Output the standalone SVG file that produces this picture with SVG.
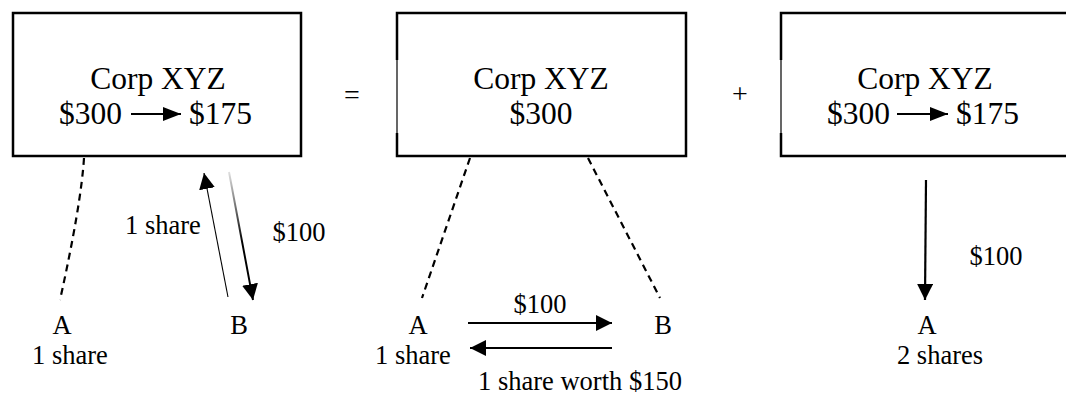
<svg xmlns="http://www.w3.org/2000/svg" width="1066" height="398" viewBox="0 0 1066 398">
<style>
.box{fill:none;stroke:#000;stroke-width:2.5}
.edge{stroke:#000;fill:none}
.t{font-family:"Liberation Serif","Times New Roman",serif;fill:#000}
.big{font-size:31.5px}
.lbl{font-size:26.5px}
.dash{stroke:#000;stroke-width:2.2;fill:none;stroke-dasharray:7 5}
.arr{stroke:#000;stroke-width:2.2;fill:none;marker-end:url(#ah)}
</style>
<defs>
<marker id="ah" markerUnits="userSpaceOnUse" markerWidth="17" markerHeight="17" refX="16" refY="8" orient="auto" viewBox="0 0 17 17">
<path d="M0,0 L16,8 L0,16 z" fill="#000"/>
</marker>
<marker id="ahs" markerUnits="userSpaceOnUse" markerWidth="19" markerHeight="15" refX="18" refY="7" orient="auto" viewBox="0 0 19 15">
<path d="M0,0 L18,7 L0,14 z" fill="#000"/>
</marker>
<linearGradient id="fade" gradientUnits="userSpaceOnUse" x1="229" y1="172" x2="253" y2="300">
<stop offset="0" stop-color="#e0e0e0"/>
<stop offset="0.55" stop-color="#000"/>
<stop offset="1" stop-color="#000"/>
</linearGradient>
</defs>

<g id="box1">
<rect class="box" x="13" y="13" width="288" height="143"/>
<text class="t big" x="158" y="88.5" text-anchor="middle">Corp XYZ</text>
<text class="t big" x="59" y="124">$300</text>
<line x1="131" y1="114" x2="181" y2="114" stroke="#000" stroke-width="2.2" marker-end="url(#ahs)"/>
<text class="t big" x="189" y="124">$175</text>
</g>

<g id="op-eq"><text class="t" style="font-size:28px" x="352" y="104" text-anchor="middle">=</text></g>

<g id="box2">
<path class="edge" stroke-width="2.5" d="M397,60 V13 H686 V156 H397 V133"/>
<line class="edge" stroke-width="1.2" x1="397" y1="60" x2="397" y2="133"/>
<text class="t big" x="541" y="88.5" text-anchor="middle">Corp XYZ</text>
<text class="t big" x="541" y="124" text-anchor="middle">$300</text>
</g>

<g id="op-plus"><text class="t" style="font-size:28px" x="740" y="103" text-anchor="middle">+</text></g>

<g id="box3">
<path class="edge" stroke-width="2.5" d="M781,60 V13 H1070 M1070,156 H781 V133"/>
<line class="edge" stroke-width="1.2" x1="781" y1="60" x2="781" y2="133"/>
<text class="t big" x="925" y="88.5" text-anchor="middle">Corp XYZ</text>
<text class="t big" x="827" y="124">$300</text>
<line x1="897" y1="114" x2="948" y2="114" stroke="#000" stroke-width="2.2" marker-end="url(#ahs)"/>
<text class="t big" x="956" y="124">$175</text>
</g>

<g id="p1-A"><text class="t lbl" x="62" y="334" text-anchor="middle">A</text><text class="t lbl" x="70" y="364" text-anchor="middle">1 share</text></g>
<g id="p1-B"><text class="t lbl" x="239" y="334" text-anchor="middle">B</text></g>
<g id="p2-A"><text class="t lbl" x="418" y="334" text-anchor="middle">A</text><text class="t lbl" x="413" y="364" text-anchor="middle">1 share</text></g>
<g id="p2-B"><text class="t lbl" x="663" y="334" text-anchor="middle">B</text></g>
<g id="p3-A"><text class="t lbl" x="927" y="334" text-anchor="middle">A</text><text class="t lbl" x="940" y="364" text-anchor="middle">2 shares</text></g>

<g id="connectors">
<path class="dash" d="M84,158 Q81,205 60,300"/>
<line x1="228" y1="297" x2="204" y2="173" stroke="#000" stroke-width="1.1" marker-end="url(#ah)"/>
<line x1="229" y1="172" x2="253" y2="300" stroke="url(#fade)" stroke-width="2" marker-end="url(#ah)"/>
<text class="t lbl" x="163" y="234" text-anchor="middle">1 share</text>
<text class="t lbl" x="299" y="241" text-anchor="middle">$100</text>

<path class="dash" d="M470,158 L422,298"/>
<path class="dash" d="M588,158 L660,298"/>
<line class="arr" x1="468" y1="323" x2="612" y2="323"/>
<line class="arr" x1="612" y1="348" x2="470" y2="348"/>
<text class="t lbl" x="540" y="313" text-anchor="middle">$100</text>
<text class="t lbl" x="580" y="390" text-anchor="middle">1 share worth $150</text>

<line class="arr" x1="926" y1="180" x2="925" y2="300"/>
<text class="t lbl" x="996" y="265" text-anchor="middle">$100</text>
</g>
</svg>
